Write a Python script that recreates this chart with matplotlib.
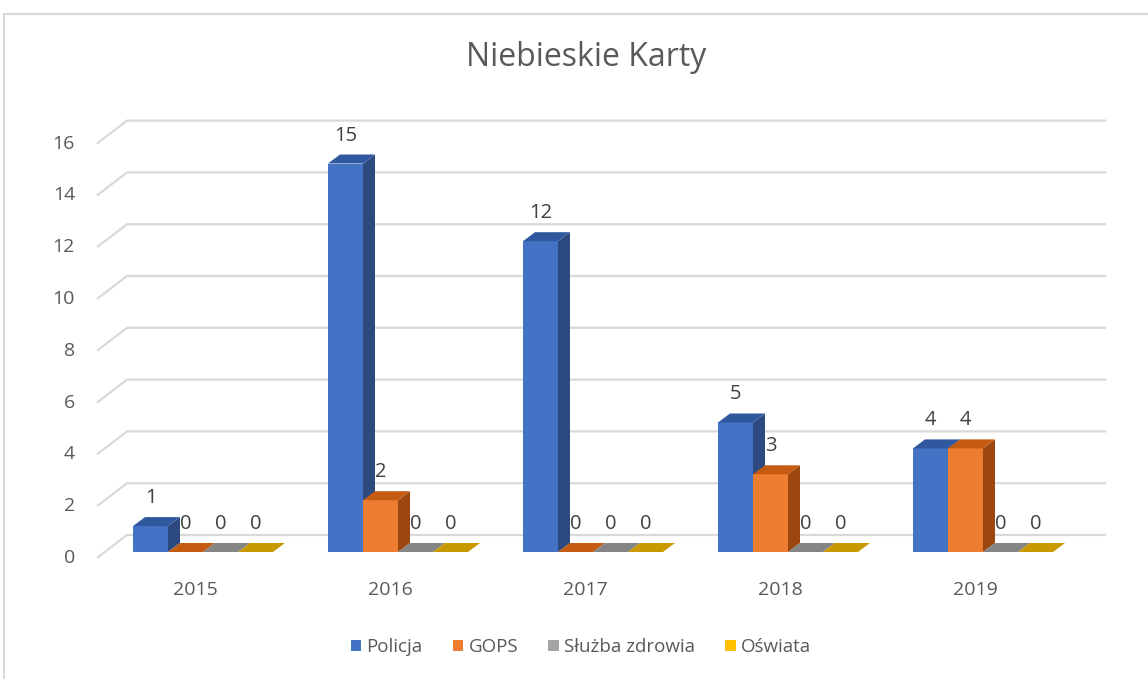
import matplotlib.pyplot as plt
from matplotlib.patches import Polygon, Rectangle, Patch

years = ['2015', '2016', '2017', '2018', '2019']
series = ['Policja', 'GOPS', 'Służba zdrowia', 'Oświata']
policja = [1, 15, 12, 5, 4]
gops = [0, 2, 0, 3, 4]
sluzba = [0, 0, 0, 0, 0]
oswiata = [0, 0, 0, 0, 0]
yticks = [0, 2, 4, 6, 8, 10, 12, 14, 16]

values = [policja, gops, sluzba, oswiata]
front = ['#4472C4', '#ED7D31', '#A5A5A5', '#FFC000']
top = ['#30589F', '#C55A11', '#858585', '#C99A00']
side = ['#2D4A80', '#9C4710', '#6E6E6E', '#A07B00']

plt.rcParams['font.family'] = ['Open Sans', 'DejaVu Sans']
txt = '#595959'

fig = plt.figure(figsize=(11.48, 6.79), dpi=100)
ax = fig.add_axes([0.06794, 0.12099, 0.91725, 0.74381])
ax.set_xlim(-0.6, 4.8)
ax.set_ylim(-1.5, 18)
ax.axis('off')

# pixel -> data unit sizes
px = 1 / 195
py = 1 / 25.9

# back wall grid with a slanted floor edge on the left
wdx, wdy = 30 * px, 23 * py
x_front = -0.5026
x_end = 4.672
for t in yticks:
    ax.plot([x_front, x_front + wdx, x_end], [t, t + wdy, t + wdy],
            color='#D9D9D9', lw=1.6, zorder=1, solid_capstyle='butt')
    ax.text(x_front - 22 * px, t, str(t), ha='right', va='center',
            fontsize=14, color=txt)

for i, y in enumerate(years):
    ax.text(i, -1.25, y, ha='center', va='center', fontsize=14, color=txt)

# pseudo-3D bars
bw = 35 * px
bdx, bdy = 12 * px, 9 * py
yb = 6 * py
z = 2
for i in range(len(years)):
    x0 = i - 62 * px
    for s in range(len(series)):
        h = values[s][i]
        xl = x0 + s * bw
        xr = xl + bw
        yt = yb + h
        if h > 0:
            ax.add_patch(Rectangle((xl, yb), bw, h, facecolor=front[s],
                                   edgecolor='none', zorder=z))
            ax.add_patch(Polygon([(xr, yb), (xr + bdx, yb + bdy),
                                  (xr + bdx, yt + bdy), (xr, yt)],
                                 facecolor=side[s], edgecolor='none', zorder=z))
        ax.add_patch(Polygon([(xl, yt), (xr, yt), (xr + bdx, yt + bdy),
                              (xl + bdx, yt + bdy)],
                             facecolor=top[s], edgecolor='none', zorder=z))
        z += 1
        ax.text(xl + bw / 2, yt + 28 * py, str(h), ha='center', va='center',
                fontsize=14.5, color='#404040', zorder=100)

fig.text(586 / 1148, 1 - 58 / 679, 'Niebieskie Karty', ha='center',
         va='center', fontsize=23, color=txt)

handles = [Patch(facecolor=front[k], edgecolor='none') for k in range(4)]
fig.legend(handles, series, loc='center', bbox_to_anchor=(581 / 1148, 1 - 647 / 679),
           ncol=4, frameon=False, fontsize=13.5, labelcolor=txt,
           handlelength=0.55, handleheight=0.55, handletextpad=0.3, columnspacing=1.6)

fig.add_artist(Rectangle((4 / 1148, -0.1), 2, (679 - 14) / 679 + 0.1,
                         transform=fig.transFigure, fill=False,
                         edgecolor='#D9D9D9', lw=1.5))

fig.savefig('out.png', dpi=100)
